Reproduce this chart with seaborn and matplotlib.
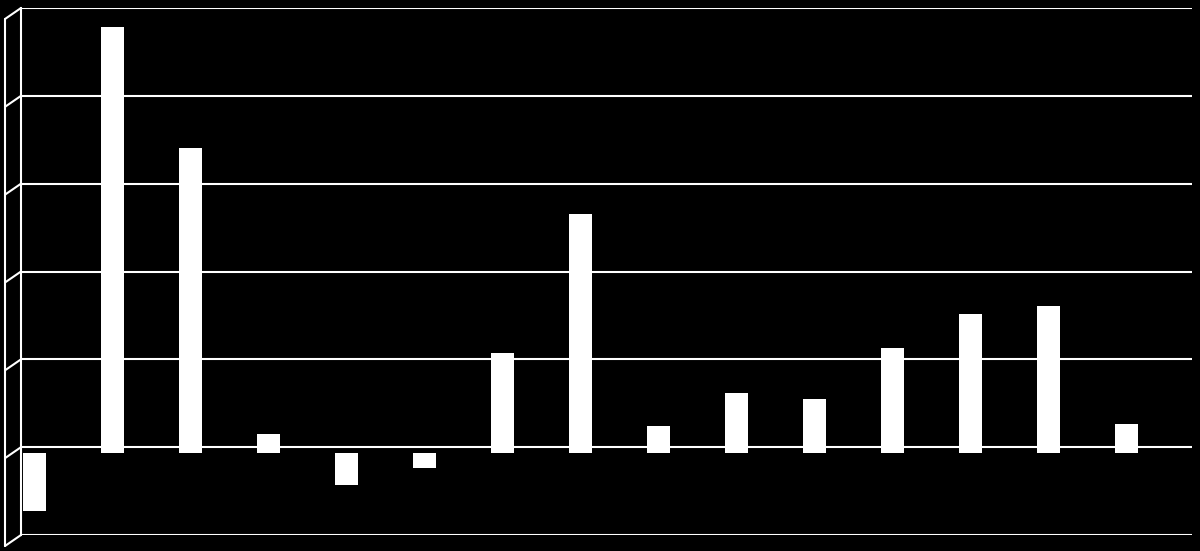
import matplotlib
matplotlib.use("Agg")
import matplotlib.pyplot as plt
import matplotlib.transforms as mtransforms
from matplotlib.lines import Line2D
import seaborn as sns
import pandas as pd

# Values (one gridline = 1 unit)
categories = [str(i) for i in range(1, 16)]
values = [-0.66, 4.85, 3.47, 0.22, -0.36, -0.17, 1.14, 2.72,
          0.31, 0.69, 0.62, 1.20, 1.58, 1.68, 0.33]
y_ticks = [-1, 0, 1, 2, 3, 4, 5]

df = pd.DataFrame({'Category': categories, 'Value': values})

sns.set_style('dark')
fig = plt.figure(figsize=(12, 5.51), dpi=100, facecolor='black')
ax = fig.add_axes([21 / 1200, 16 / 551, 1171 / 1200, 527 / 551])
ax.set_facecolor('black')

sns.barplot(data=df, x='Category', y='Value', color='white', width=0.3,
            saturation=1, edgecolor='white', linewidth=0, ax=ax)

ax.set_ylim(y_ticks[0], y_ticks[-1])
ax.set_xlim(-0.17, 14.84)
ax.set_yticks(y_ticks)
ax.set_xticks([])
ax.set_yticklabels([])
ax.tick_params(length=0)
ax.set_xlabel('')
ax.set_ylabel('')
ax.grid(False)
for v in y_ticks:
    ax.axhline(v, color='white', lw=1.5, zorder=0)

for side in ['top', 'right', 'bottom']:
    ax.spines[side].set_visible(False)
ax.spines['left'].set_color('white')
ax.spines['left'].set_linewidth(1.5)

# 3D look: bar front faces sit a few pixels in front of (below) the back wall
shift = mtransforms.ScaledTranslation(0, -6 / 100, fig.dpi_scale_trans)
for p in ax.patches:
    p.set_transform(ax.transData + shift)
    p.set_clip_on(False)

# side wall of the 3D frame
fig.canvas.draw()
tr = ax.get_yaxis_transform()
dx, dy = -16, -11
top = tr.transform((0, y_ticks[-1]))
bot = tr.transform((0, y_ticks[0]))
for v in y_ticks:
    x0, y0 = tr.transform((0, v))
    fig.add_artist(Line2D([x0, x0 + dx], [y0, y0 + dy], transform=None,
                          color='white', lw=1.5))
fig.add_artist(Line2D([top[0] + dx, bot[0] + dx], [top[1] + dy, bot[1] + dy],
                      transform=None, color='white', lw=1.5))

fig.savefig('out.png', dpi=100, facecolor='black')
